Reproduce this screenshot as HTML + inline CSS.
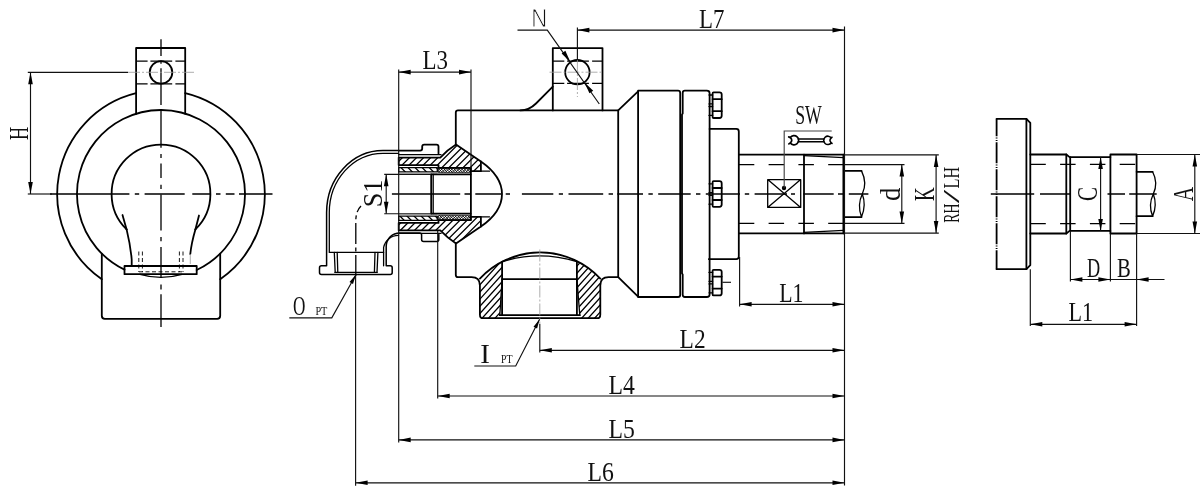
<!DOCTYPE html>
<html><head><meta charset="utf-8"><title>drawing</title>
<style>
html,body{margin:0;padding:0;background:#fff;}
body{width:1200px;height:489px;overflow:hidden;font-family:"Liberation Serif",serif;}
svg{display:block;will-change:transform}
.k{fill:none;stroke:#000;stroke-width:1.8;stroke-linecap:round;stroke-linejoin:round}
.k2{fill:none;stroke:#000;stroke-width:1.3;stroke-linecap:round;stroke-linejoin:round}
.t{fill:none;stroke:#111;stroke-width:1.15}
.g{fill:none;stroke:#999;stroke-width:0.8}
.c{fill:none;stroke:#000;stroke-width:1.3;stroke-dasharray:21 3.5 4 3.5}
.cg{fill:none;stroke:#999;stroke-width:0.8;stroke-dasharray:12 2 2 2}
.hd{fill:none;stroke:#000;stroke-width:1.3;stroke-dasharray:15.5 14.3}
.hl{fill:none;stroke:#000;stroke-width:1.3;stroke-dasharray:11.5 2.8 21.8 3.2 11}
.hs{fill:none;stroke:#000;stroke-width:0.9;stroke-dasharray:4 2.5}
.af{fill:#000;stroke:none}
.tx{font-family:"Liberation Serif",serif;fill:#111}
.ht{stroke:#000;stroke-width:1.25}
</style></head><body>
<svg width="1200" height="489" viewBox="0 0 1200 489">
<defs>
<pattern id="h1" width="5" height="5" patternUnits="userSpaceOnUse" patternTransform="rotate(-45)"><line x1="0" y1="0" x2="5" y2="0" class="ht"/></pattern>
<pattern id="h2" width="5" height="5" patternUnits="userSpaceOnUse" patternTransform="rotate(45)"><line x1="0" y1="0" x2="5" y2="0" class="ht"/></pattern>
<pattern id="h3" width="2" height="2" patternUnits="userSpaceOnUse" patternTransform="rotate(45)"><line x1="0" y1="0" x2="2" y2="0" stroke="#000" stroke-width="1.1"/><line x1="0" y1="0" x2="0" y2="2" stroke="#000" stroke-width="0.8"/></pattern>
<pattern id="h4" width="4.8" height="4.8" patternUnits="userSpaceOnUse" patternTransform="rotate(-48)"><line x1="0" y1="0" x2="4.8" y2="0" class="ht"/></pattern>
</defs>
<rect x="0" y="0" width="1200" height="489" fill="#fff"/>

<g id="v1">
<path class="k" d="M136.1,93.23 A103.8,103.8 0 0 0 101.8,279.26" />
<path class="k" d="M185.2,93.06 A103.8,103.8 0 0 1 220.2,279.26" />
<path class="k" d="M124.5,269.66 A84.0,84.0 0 1 1 196.7,270.04" />
<path class="k" d="M136.1,113.78 L136.1,48 L185.2,48 L185.2,113.78" />
<circle class="k" cx="161.0" cy="72.4" r="11.3"/>
<line class="hl" x1="136.1" y1="61.2" x2="185.2" y2="61.2"/>
<line class="hl" x1="136.1" y1="83.8" x2="185.2" y2="83.8"/>
<path class="k" d="M101.8,253.59 L101.8,315.8 Q101.8,318.8 104.8,318.8 L217.2,318.8 Q220.2,318.8 220.2,315.8 L220.2,253.59" />
<path class="k" d="M126.6,229.4 A49.4,49.4 0 1 1 195.4,229.4" />
<path class="k" d="M126.6,229.4 Q130.6,246 131.7,259.5 L131.7,266" />
<path class="k" d="M195.4,229.4 Q191.4,243 190.3,254" />
<line class="g" x1="190.3" y1="254" x2="190.3" y2="264"/>
<path class="k" d="M122.5,215 L126.6,229.4" />
<path class="k" d="M199.0,215.5 L195.4,229.4" />
<rect class="k" x="124.5" y="266" width="72.19999999999999" height="8.2"/>
<line class="hs" x1="138.8" y1="251.5" x2="138.8" y2="272"/>
<line class="hs" x1="142.4" y1="251.5" x2="142.4" y2="272"/>
<line class="hs" x1="179.4" y1="251.5" x2="179.4" y2="272"/>
<line class="hs" x1="183.0" y1="251.5" x2="183.0" y2="272"/>
<line class="hs" x1="139" y1="271.8" x2="183" y2="271.8"/>
<path class="k2" d="M140,274.4 Q161,280.5 182,274.4" />
<path class="c" style="stroke-dasharray:none;stroke-linecap:butt" d="M161.0,39.2 V56 M161.0,60.7 V63.7 M161.0,68.3 V105 M161.0,110.7 V147.8 M161.0,153.9 V157.9 M161.0,163.5 V178 M161.0,184.7 V189 M161.0,194.5 V230.5 M161.0,237 V241.3 M161.0,246.9 V278 M161.0,284.5 V289.4 M161.0,294.3 V327 "/>
<path class="c" style="stroke-dasharray:none;stroke-linecap:butt" d="M50,194.0 H129.4 M134.8,194.0 H139.2 M144.6,194.0 H184.7 M192.3,194.0 H210.7 M216,194.0 H220.5 M225.8,194.0 H234.5 M239,194.0 H272.5 "/>
<line class="t" x1="27.8" y1="72.3" x2="128" y2="72.3"/>
<line class="cg" x1="128" y1="72.3" x2="194" y2="72.3"/>
<line class="t" x1="27.8" y1="194.0" x2="52" y2="194.0"/>
<line class="t" x1="30.5" y1="72.3" x2="30.5" y2="194.0"/><polygon class="af" points="30.50,72.30 32.80,84.30 28.20,84.30"/><polygon class="af" points="30.50,194.00 28.20,182.00 32.80,182.00"/>
<text class="tx" x="27.6" y="140" font-size="28" textLength="13.2" lengthAdjust="spacingAndGlyphs" transform="rotate(-90 27.6 140)">H</text>
</g>
<g id="v2">
<path class="k" d="M398.7,150.6 L383,150.6 A56.4,62 0 0 0 326.6,212.6 L326.6,265.8 L321.5,265.8 Q319.5,265.8 319.5,267.8 L319.5,272.4 Q319.5,274.4 321.5,274.4 L390.2,274.4 Q392.2,274.4 392.2,272.4 L392.2,267.8 Q392.2,265.8 390.2,265.8 L386.2,265.8 L386.2,246.5 A13.6,13.6 0 0 1 399.8,232.9 L419.6,232.9 Q421.6,232.9 421.6,234.9 L421.6,239.5 Q421.6,241.5 423.6,241.5 L436.8,241.5 Q438.8,241.5 438.8,239.5 L438.8,234.5" style="stroke-width:1.5"/>
<path class="k2" d="M398.7,153.3 L383,153.3 A53.7,59.3 0 0 0 329.3,212.6 L329.3,252.4 L383.6,252.4" />
<path class="k2" d="M383.6,265.8 L383.6,247.5 A15,15 0 0 1 398.6,235.3" />
<path class="k" d="M398.7,150.6 L420.2,150.6 Q422.2,150.6 422.2,148.6 L422.2,146.6 Q422.2,144.6 424.2,144.6 L436.5,144.6 Q438.5,144.6 438.5,146.6 L438.5,153.5" />
<line class="k2" x1="398.7" y1="154.6" x2="441" y2="154.6"/>
<line class="k2" x1="398.7" y1="233.4" x2="441" y2="233.4"/>
<path class="k2" d="M334.3,252.4 L335.2,272.4 M337.2,252.4 L337.8,272.4 M377.9,252.4 L377.0,272.4 M375.0,252.4 L374.4,272.4" />
<line class="k2" x1="335" y1="272.4" x2="377" y2="272.4"/>
<path class="c" d="M355.8,276 L355.8,221 Q355.8,211 361,206" />
<clipPath id="hc1"><path d="M398.7,157.6 L440.3,157.6 Q448,149.5 456,144.6 L480.9,161.4 L480.9,171.2 L470.6,171.2 L470.6,167.9 L438.5,167.9 L438.5,165.1 L398.7,165.1 Z"/></clipPath><path clip-path="url(#hc1)" d="M378.18,160.63 L442.48,96.33 M381.72,164.17 L446.02,99.87 M385.25,167.70 L449.55,103.40 M388.79,171.24 L453.09,106.94 M392.33,174.77 L456.62,110.48 M395.86,178.31 L460.16,114.01 M399.40,181.85 L463.70,117.55 M402.93,185.38 L467.23,121.08 M406.47,188.92 L470.77,124.62 M410.00,192.45 L474.30,128.15 M413.54,195.99 L477.84,131.69 M417.07,199.52 L481.37,135.22 M420.61,203.06 L484.91,138.76 M424.15,206.59 L488.44,142.30 M427.68,210.13 L491.98,145.83 M431.22,213.67 L495.52,149.37 M434.75,217.20 L499.05,152.90 M438.29,220.74 L502.59,156.44 " fill="none" stroke="#000" stroke-width="1.3"/>
<path d="M398.7,157.6 L440.3,157.6 Q448,149.5 456,144.6 L480.9,161.4 L480.9,171.2 L470.6,171.2 L470.6,167.9 L438.5,167.9 L438.5,165.1 L398.7,165.1 Z" class="k"/>
<clipPath id="hc2"><path d="M398.7,167.6 L437.3,167.6 L437.3,171.9 L398.7,171.9 Z"/></clipPath><path clip-path="url(#hc2)" d="M416.62,140.84 L446.91,171.13 M413.08,144.38 L443.37,174.67 M409.54,147.91 L439.84,178.21 M406.01,151.45 L436.30,181.74 M402.47,154.99 L432.76,185.28 M398.94,158.52 L429.23,188.81 M395.40,162.06 L425.69,192.35 M391.87,165.59 L422.16,195.88 M388.33,169.13 L418.62,199.42 " fill="none" stroke="#000" stroke-width="1.3"/>
<path d="M398.7,167.6 L437.3,167.6 L437.3,171.9 L398.7,171.9 Z" class="k2"/>
<line class="g" x1="398.7" y1="173.2" x2="437.3" y2="173.2"/>
<clipPath id="hc3"><path d="M438.5,168.2 H470.5 V172.6 H438.5 Z"/></clipPath><path clip-path="url(#hc3)" d="M453.62,145.61 L479.29,171.28 M452.35,146.88 L478.02,172.55 M451.08,148.15 L476.75,173.82 M449.81,149.43 L475.47,175.09 M448.53,150.70 L474.20,176.37 M447.26,151.97 L472.93,177.64 M445.99,153.24 L471.66,178.91 M444.71,154.52 L470.38,180.19 M443.44,155.79 L469.11,181.46 M442.17,157.06 L467.84,182.73 M440.90,158.34 L466.56,184.00 M439.62,159.61 L465.29,185.28 M438.35,160.88 L464.02,186.55 M437.08,162.15 L462.75,187.82 M435.80,163.43 L461.47,189.10 M434.53,164.70 L460.20,190.37 M433.26,165.97 L458.93,191.64 M431.99,167.25 L457.65,192.91 M430.71,168.52 L456.38,194.19 M429.44,169.79 L455.11,195.46 " fill="none" stroke="#000" stroke-width="0.9"/>
<clipPath id="hc4"><path d="M438.5,168.2 H470.5 V172.6 H438.5 Z"/></clipPath><path clip-path="url(#hc4)" d="M429.59,171.16 L455.26,145.49 M431.29,172.86 L456.96,147.19 M432.99,174.56 L458.66,148.89 M434.69,176.25 L460.35,150.59 M436.38,177.95 L462.05,152.28 M438.08,179.65 L463.75,153.98 M439.78,181.35 L465.45,155.68 M441.47,183.04 L467.14,157.37 M443.17,184.74 L468.84,159.07 M444.87,186.44 L470.54,160.77 M446.57,188.13 L472.23,162.47 M448.26,189.83 L473.93,164.16 M449.96,191.53 L475.63,165.86 M451.66,193.23 L477.33,167.56 M453.35,194.92 L479.02,169.25 " fill="none" stroke="#000" stroke-width="0.8"/>
<path d="M438.5,168.2 H470.5 V172.6 H438.5 Z" fill="none" stroke="#000" stroke-width="0.7"/>
<line class="k" x1="431.7" y1="174.4" x2="470.6" y2="174.4"/>
<line class="k2" x1="480.9" y1="171.2" x2="489.5" y2="171.2"/>
<clipPath id="hc5"><path d="M398.7,230.4 L440.3,230.4 Q448,238.5 456,243.4 L480.9,226.6 L480.9,216.8 L470.6,216.8 L470.6,220.1 L438.5,220.1 L438.5,222.9 L398.7,222.9 Z"/></clipPath><path clip-path="url(#hc5)" d="M377.54,231.99 L441.84,167.69 M381.07,235.52 L445.37,171.22 M384.61,239.06 L448.91,174.76 M388.15,242.59 L452.44,178.30 M391.68,246.13 L455.98,181.83 M395.22,249.67 L459.52,185.37 M398.75,253.20 L463.05,188.90 M402.29,256.74 L466.59,192.44 M405.82,260.27 L470.12,195.97 M409.36,263.81 L473.66,199.51 M412.89,267.34 L477.19,203.04 M416.43,270.88 L480.73,206.58 M419.96,274.41 L484.26,210.11 M423.50,277.95 L487.80,213.65 M427.04,281.49 L491.34,217.19 M430.57,285.02 L494.87,220.72 M434.11,288.56 L498.41,224.26 M437.64,292.09 L501.94,227.79 " fill="none" stroke="#000" stroke-width="1.3"/>
<path d="M398.7,230.4 L440.3,230.4 Q448,238.5 456,243.4 L480.9,226.6 L480.9,216.8 L470.6,216.8 L470.6,220.1 L438.5,220.1 L438.5,222.9 L398.7,222.9 Z" class="k"/>
<clipPath id="hc6"><path d="M398.7,220.4 L437.3,220.4 L437.3,216.1 L398.7,216.1 Z"/></clipPath><path clip-path="url(#hc6)" d="M416.12,189.84 L446.41,220.13 M412.58,193.38 L442.87,223.67 M409.05,196.91 L439.34,227.20 M405.51,200.45 L435.80,230.74 M401.97,203.98 L432.27,234.28 M398.44,207.52 L428.73,237.81 M394.90,211.06 L425.19,241.35 M391.37,214.59 L421.66,244.88 M387.83,218.13 L418.12,248.42 " fill="none" stroke="#000" stroke-width="1.3"/>
<path d="M398.7,220.4 L437.3,220.4 L437.3,216.1 L398.7,216.1 Z" class="k2"/>
<line class="g" x1="398.7" y1="214.8" x2="437.3" y2="214.8"/>
<clipPath id="hc7"><path d="M438.5,215.4 H470.5 V219.8 H438.5 Z"/></clipPath><path clip-path="url(#hc7)" d="M454.31,192.12 L479.98,217.79 M453.04,193.39 L478.71,219.06 M451.77,194.66 L477.44,220.33 M450.49,195.94 L476.16,221.61 M449.22,197.21 L474.89,222.88 M447.95,198.48 L473.62,224.15 M446.68,199.75 L472.35,225.42 M445.40,201.03 L471.07,226.70 M444.13,202.30 L469.80,227.97 M442.86,203.57 L468.53,229.24 M441.59,204.85 L467.25,230.51 M440.31,206.12 L465.98,231.79 M439.04,207.39 L464.71,233.06 M437.77,208.66 L463.44,234.33 M436.49,209.94 L462.16,235.61 M435.22,211.21 L460.89,236.88 M433.95,212.48 L459.62,238.15 M432.68,213.76 L458.34,239.42 M431.40,215.03 L457.07,240.70 M430.13,216.30 L455.80,241.97 M428.86,217.57 L454.53,243.24 " fill="none" stroke="#000" stroke-width="0.9"/>
<clipPath id="hc8"><path d="M438.5,215.4 H470.5 V219.8 H438.5 Z"/></clipPath><path clip-path="url(#hc8)" d="M429.75,218.52 L455.42,192.85 M431.45,220.22 L457.12,194.55 M433.15,221.92 L458.82,196.25 M434.84,223.61 L460.51,197.94 M436.54,225.31 L462.21,199.64 M438.24,227.01 L463.91,201.34 M439.94,228.70 L465.60,203.04 M441.63,230.40 L467.30,204.73 M443.33,232.10 L469.00,206.43 M445.03,233.80 L470.70,208.13 M446.72,235.49 L472.39,209.82 M448.42,237.19 L474.09,211.52 M450.12,238.89 L475.79,213.22 M451.82,240.58 L477.48,214.92 M453.51,242.28 L479.18,216.61 " fill="none" stroke="#000" stroke-width="0.8"/>
<path d="M438.5,215.4 H470.5 V219.8 H438.5 Z" fill="none" stroke="#000" stroke-width="0.7"/>
<line class="k" x1="431.7" y1="213.6" x2="470.6" y2="213.6"/>
<line class="k2" x1="480.9" y1="216.8" x2="489.5" y2="216.8"/>
<line class="k" x1="431.2" y1="174.4" x2="431.2" y2="213.6"/>
<line class="k2" x1="433.2" y1="174.4" x2="433.2" y2="213.6"/>
<line class="k" x1="470.9" y1="168" x2="470.9" y2="220.0"/>
<path class="k" d="M480.9,161.4 Q502,176 502,194 Q502,212 480.9,226.6" />
<path class="k" d="M455.8,144.6 L455.8,112.5 Q455.8,110.4 458,110.4 L618.2,110.4 L638.1,91.4" />
<path class="k" d="M455.8,243.4 L455.8,275 Q455.8,277.2 458,277.2 L471.5,277.2 Q479.9,277.2 479.9,285.5 L479.9,314.4 Q479.9,318.2 482.9,318.2 L597.3,318.2 Q600.3,318.2 600.3,314.4 L600.3,285.5 Q600.3,277.2 608.6,277.2 L618.2,277.2 L638.1,296.6" />
<line class="k" x1="618.2" y1="110.4" x2="618.2" y2="277.2"/>
<path class="k" d="M552.8,110.4 L552.8,48.1 L602.5,48.1 L602.5,110.4" />
<path class="k" d="M552.8,86.7 L536,103.5 Q529,110.4 520.5,110.4" />
<circle class="k" cx="577.4" cy="72.2" r="12.2"/>
<line class="hl" x1="552.8" y1="61.2" x2="602.5" y2="61.2"/>
<line class="hl" x1="552.8" y1="83.4" x2="602.5" y2="83.4"/>
<line class="cg" x1="549.5" y1="72.2" x2="604" y2="72.2"/>
<line class="cg" x1="577.4" y1="60" x2="577.4" y2="97"/>
<path class="k" d="M638.1,90.7 L678,90.7 Q680.2,90.7 680.2,93 L680.2,294.7 Q680.2,297 678,297 L638.1,297 Z" />
<path class="k" d="M684.9,90.7 L706.8,90.7 Q709.6,90.7 709.6,93.2 L709.6,294.5 Q709.6,297 706.8,297 L684.9,297 Q682.7,297 682.7,294.8 L682.7,274.5 L682.0,273.5 L682.0,114.5 L682.7,113.5 L682.7,93 Q682.7,90.7 684.9,90.7 Z" />
<path class="k" d="M712.6,93.4 Q712.6,92.4 713.6,92.4 L719.5,92.4 Q721.7,92.4 721.7,94.60000000000001 L721.7,115.8 Q721.7,118.0 719.5,118.0 L713.6,118.0 Q712.6,118.0 712.6,117.0 Z" /><line class="k" x1="712.6" y1="99.2" x2="721.7" y2="99.2"/><line class="k" x1="712.6" y1="111.2" x2="721.7" y2="111.2"/><path class="k2" d="M709,95.0 L712.6,95.0 M709,115.4 L712.6,115.4 M709,103.9 L712.6,103.9 M709,106.5 L712.6,106.5" />
<path class="k" d="M712.6,182.2 Q712.6,181.2 713.6,181.2 L719.5,181.2 Q721.7,181.2 721.7,183.39999999999998 L721.7,204.60000000000002 Q721.7,206.8 719.5,206.8 L713.6,206.8 Q712.6,206.8 712.6,205.8 Z" /><line class="k" x1="712.6" y1="188" x2="721.7" y2="188"/><line class="k" x1="712.6" y1="200" x2="721.7" y2="200"/><path class="k2" d="M709,183.8 L712.6,183.8 M709,204.2 L712.6,204.2 M709,192.7 L712.6,192.7 M709,195.3 L712.6,195.3" />
<path class="k" d="M712.6,270.8 Q712.6,269.8 713.6,269.8 L719.5,269.8 Q721.7,269.8 721.7,272.0 L721.7,293.20000000000005 Q721.7,295.40000000000003 719.5,295.40000000000003 L713.6,295.40000000000003 Q712.6,295.40000000000003 712.6,294.40000000000003 Z" /><line class="k" x1="712.6" y1="276.6" x2="721.7" y2="276.6"/><line class="k" x1="712.6" y1="288.6" x2="721.7" y2="288.6"/><path class="k2" d="M709,272.40000000000003 L712.6,272.40000000000003 M709,292.8 L712.6,292.8 M709,281.3 L712.6,281.3 M709,283.90000000000003 L712.6,283.90000000000003" />
<line class="t" x1="722.4" y1="282.3" x2="731" y2="282.3"/>
<path class="k" d="M709.6,128.9 L736.3,128.9 Q738.8,128.9 738.8,131.4 L738.8,256.6 Q738.8,259.1 736.3,259.1 L708.8,259.1" />
<path class="k" d="M738.8,154.6 L843.6,154.6 L843.6,233.4 L738.8,233.4" />
<line class="k" x1="804" y1="154.6" x2="804" y2="233.4"/>
<path class="k2" d="M804,155.6 L843.6,157.7 M804,232.4 L843.6,230.3" />
<line class="k" x1="843.6" y1="154.6" x2="843.6" y2="233.4"/>
<line class="hd" x1="738.8" y1="164.6" x2="843.6" y2="164.6"/>
<line class="hd" x1="738.8" y1="223.4" x2="843.6" y2="223.4"/>
<path class="k" d="M844.6,170.9 L861.5,170.9 M844.6,217.1 L861.5,217.1" />
<path class="k2" d="M861.5,170.9 Q867.5,183 862.3,194 Q857,205 861.5,217.1 Q866.5,205 862.3,194" />
<path class="k2" d="M767.7,179.6 L800.7,179.6 L800.7,207.4 L767.7,207.4 Z M767.7,179.6 L800.7,207.4 M800.7,179.6 L767.7,207.4" />
<circle cx="784" cy="188" r="2.2" fill="#000"/>
<path class="t" d="M784.2,187.6 L784.2,131 L831.7,131" style="stroke:#444"/>
<text class="tx" x="795.2" y="124.4" font-size="28" textLength="26.6" lengthAdjust="spacingAndGlyphs">SW</text>
<path class="k" d="M798.2,139 L824,139 M798.2,141.8 L824,141.8" style="stroke-width:1.5"/>
<path class="k" d="M788.7,136.9 L790.3,137.6 A4.6,4.6 0 1 1 790.3,142.9 L788.9,143.9 M790.3,137.6 Q793.2,140.2 790.3,142.9" style="stroke-width:1.7"/>
<path class="k" d="M832,143.4 L831.3,142.8 A4.2,4.2 0 1 1 831.3,137.9 L832,137.2 M831.3,142.8 Q828.6,140.3 831.3,137.9" style="stroke-width:1.6"/>
<path class="c" style="stroke-dasharray:none;stroke-linecap:butt" d="M391.9,194.0 H460.2 M464.5,194.0 H470 M475.3,194.0 H501.3 M505.7,194.0 H510 M521.9,194.0 H553.3 M558.8,194.0 H563 M568.5,194.0 H603.2 M608.6,194.0 H613 M617.3,194.0 H643 M648.4,194.0 H652.8 M658.2,194.0 H690.7 M696,194.0 H700.4 M705.8,194.0 H740 M744.8,194.0 H749.2 M754.6,194.0 H787 M791,194.0 H795 M803.3,194.0 H833.7 M838,194.0 H843.4 M848.8,194.0 H868.4 "/>
<clipPath id="hc9"><path d="M479.9,278.6 A82.4,82.4 0 0 1 502.1,261.7 L502.1,279.1 L499.8,315.2 L499.8,318.2 L482.9,318.2 Q479.9,318.2 479.9,314.4 Z"/></clipPath><path clip-path="url(#hc9)" d="M446.30,293.42 L490.12,244.75 M449.87,296.63 L493.69,247.96 M453.43,299.84 L497.25,251.18 M457.00,303.05 L500.82,254.39 M460.57,306.26 L504.39,257.60 M464.14,309.48 L507.95,260.81 M467.70,312.69 L511.52,264.02 M471.27,315.90 L515.09,267.23 M474.84,319.11 L518.66,270.45 M478.40,322.32 L522.22,273.66 M481.97,325.54 L525.79,276.87 M485.54,328.75 L529.36,280.08 M489.11,331.96 L532.92,283.29 M492.67,335.17 L536.49,286.51 " fill="none" stroke="#000" stroke-width="1.3"/>
<clipPath id="hc10"><path d="M600.3,278.6 A82.4,82.4 0 0 0 576.9,261.7 L576.9,279.1 L579.8,315.2 L579.8,318.2 L597.3,318.2 Q600.3,318.2 600.3,314.4 Z"/></clipPath><path clip-path="url(#hc10)" d="M544.81,294.60 L588.95,245.58 M548.37,297.82 L592.52,248.79 M551.94,301.03 L596.08,252.00 M555.51,304.24 L599.65,255.22 M559.08,307.45 L603.22,258.43 M562.64,310.66 L606.79,261.64 M566.21,313.88 L610.35,264.85 M569.78,317.09 L613.92,268.06 M573.34,320.30 L617.49,271.27 M576.91,323.51 L621.05,274.49 M580.48,326.72 L624.62,277.70 M584.05,329.93 L628.19,280.91 M587.61,333.15 L631.76,284.12 " fill="none" stroke="#000" stroke-width="1.3"/>
<path class="k" d="M479.9,278.6 A82.4,82.4 0 0 1 600.3,278.6" />
<path class="k2" d="M502.1,261.7 Q539.5,250 576.9,261.7" />
<path class="k" d="M502.1,261.7 L502.1,315.2 M576.9,261.7 L576.9,315.2" />
<path class="k" d="M502.1,279.1 L576.9,279.1" />
<path class="k2" d="M502.1,279.1 L499.8,315.2 M576.9,279.1 L579.8,315.2" />
<path class="k" d="M499.8,315.2 L579.8,315.2" />
<line class="cg" x1="539.8" y1="249.5" x2="539.8" y2="324"/>
<line class="t" x1="844.5" y1="26.5" x2="844.5" y2="485.5"/>
<line class="t" x1="577.4" y1="27.5" x2="577.4" y2="60"/>
<line class="t" x1="577.4" y1="30.1" x2="844.5" y2="30.1"/><polygon class="af" points="577.40,30.10 589.40,27.80 589.40,32.40"/><polygon class="af" points="844.50,30.10 832.50,32.40 832.50,27.80"/>
<text class="tx" x="699" y="27.8" font-size="28" textLength="25.4" lengthAdjust="spacingAndGlyphs">L7</text>
<path class="t" d="M517.5,30.1 L547.3,30.1 L599.3,104" />
<polygon class="af" points="570.40,62.00 561.60,53.52 565.36,50.87"/>
<polygon class="af" points="584.40,82.20 593.20,90.68 589.44,93.33"/>
<text x="531.2" y="26.9" font-size="25.6" textLength="16" lengthAdjust="spacingAndGlyphs" style="font-family:&quot;Liberation Sans&quot;,sans-serif;fill:#111;stroke:#fff;stroke-width:0.9px;paint-order:fill stroke">N</text>
<line class="t" x1="398.7" y1="69.5" x2="398.7" y2="442.5"/>
<line class="t" x1="471.0" y1="69.5" x2="471.0" y2="168"/>
<line class="t" x1="398.7" y1="72.1" x2="471.0" y2="72.1"/><polygon class="af" points="398.70,72.10 410.70,69.80 410.70,74.40"/><polygon class="af" points="471.00,72.10 459.00,74.40 459.00,69.80"/>
<text class="tx" x="422.5" y="69.3" font-size="28" textLength="25.5" lengthAdjust="spacingAndGlyphs">L3</text>
<line class="t" x1="384.2" y1="174.3" x2="431" y2="174.3"/>
<line class="t" x1="384.2" y1="213.7" x2="431" y2="213.7"/>
<line class="t" x1="386.2" y1="174.3" x2="386.2" y2="213.7"/><polygon class="af" points="386.20,174.30 388.50,186.30 383.90,186.30"/><polygon class="af" points="386.20,213.70 383.90,201.70 388.50,201.70"/>
<text class="tx" x="382" y="207.3" font-size="28" textLength="27.6" lengthAdjust="spacingAndGlyphs" transform="rotate(-90 382 207.3)">S1</text>
<path class="t" d="M289.3,317.8 L331.8,317.8 L355.9,274.8" />
<polygon class="af" points="355.90,274.80 353.01,284.07 349.52,282.12"/>
<text class="tx" x="292.9" y="315.2" font-size="28" textLength="12.4" lengthAdjust="spacingAndGlyphs">O</text>
<text class="tx" x="315.4" y="315" font-size="11.5" textLength="12" lengthAdjust="spacingAndGlyphs">PT</text>
<path class="t" d="M474.3,366 L515.7,366 L539.6,319.2" />
<polygon class="af" points="539.60,319.20 537.07,328.57 533.51,326.76"/>
<text class="tx" x="480.3" y="363.2" font-size="28" textLength="9.6" lengthAdjust="spacingAndGlyphs">I</text>
<text class="tx" x="501" y="363.2" font-size="11.5" textLength="11.5" lengthAdjust="spacingAndGlyphs">PT</text>
<line class="t" x1="739.6" y1="257.0" x2="739.6" y2="306.5"/>
<line class="t" x1="739.6" y1="304.3" x2="844.5" y2="304.3"/><polygon class="af" points="739.60,304.30 751.60,302.00 751.60,306.60"/><polygon class="af" points="844.50,304.30 832.50,306.60 832.50,302.00"/>
<text class="tx" x="779.2" y="301.8" font-size="28" textLength="24.2" lengthAdjust="spacingAndGlyphs">L1</text>
<line class="t" x1="539.8" y1="324" x2="539.8" y2="352.6"/>
<line class="t" x1="539.8" y1="350.3" x2="844.5" y2="350.3"/><polygon class="af" points="539.80,350.30 551.80,348.00 551.80,352.60"/><polygon class="af" points="844.50,350.30 832.50,352.60 832.50,348.00"/>
<text class="tx" x="679.6" y="348.4" font-size="28" textLength="26" lengthAdjust="spacingAndGlyphs">L2</text>
<line class="t" x1="437.7" y1="231.0" x2="437.7" y2="398.6"/>
<line class="t" x1="437.7" y1="396.0" x2="844.5" y2="396.0"/><polygon class="af" points="437.70,396.00 449.70,393.70 449.70,398.30"/><polygon class="af" points="844.50,396.00 832.50,398.30 832.50,393.70"/>
<text class="tx" x="608.6" y="393.6" font-size="28" textLength="26.3" lengthAdjust="spacingAndGlyphs">L4</text>
<line class="t" x1="398.7" y1="439.9" x2="844.5" y2="439.9"/><polygon class="af" points="398.70,439.90 410.70,437.60 410.70,442.20"/><polygon class="af" points="844.50,439.90 832.50,442.20 832.50,437.60"/>
<text class="tx" x="608.6" y="438.1" font-size="28" textLength="26.3" lengthAdjust="spacingAndGlyphs">L5</text>
<line class="t" x1="355.6" y1="276" x2="355.6" y2="485.7"/>
<line class="t" x1="355.6" y1="482.8" x2="844.5" y2="482.8"/><polygon class="af" points="355.60,482.80 367.60,480.50 367.60,485.10"/><polygon class="af" points="844.50,482.80 832.50,485.10 832.50,480.50"/>
<text class="tx" x="587.6" y="481.2" font-size="28" textLength="26.3" lengthAdjust="spacingAndGlyphs">L6</text>
<line class="t" x1="845" y1="164.6" x2="904.5" y2="164.6"/>
<line class="t" x1="845" y1="223.4" x2="904.5" y2="223.4"/>
<line class="t" x1="901.8" y1="164.6" x2="901.8" y2="223.4"/><polygon class="af" points="901.80,164.60 904.10,176.60 899.50,176.60"/><polygon class="af" points="901.80,223.40 899.50,211.40 904.10,211.40"/>
<text class="tx" x="899.6" y="201.0" font-size="29.5" textLength="13.4" lengthAdjust="spacingAndGlyphs" transform="rotate(-90 899.6 201.0)">d</text>
<line class="t" x1="845" y1="154.9" x2="938.8" y2="154.9"/>
<line class="t" x1="845" y1="233.1" x2="938.8" y2="233.1"/>
<line class="t" x1="936.1" y1="154.9" x2="936.1" y2="233.1"/><polygon class="af" points="936.10,154.90 938.40,166.90 933.80,166.90"/><polygon class="af" points="936.10,233.10 933.80,221.10 938.40,221.10"/>
<text class="tx" x="934.4" y="201.0" font-size="29" textLength="13.6" lengthAdjust="spacingAndGlyphs" transform="rotate(-90 934.4 201.0)">K</text>
<text class="tx" x="959.3" y="222.8" font-size="23" textLength="19.2" lengthAdjust="spacingAndGlyphs" transform="rotate(-90 959.3 222.8)">RH</text>
<text class="tx" x="959.3" y="203.2" font-size="23" textLength="13.6" lengthAdjust="spacingAndGlyphs" transform="rotate(-90 959.3 203.2)">/</text>
<text class="tx" x="959.3" y="188.4" font-size="23" textLength="21.6" lengthAdjust="spacingAndGlyphs" transform="rotate(-90 959.3 188.4)">LH</text>
</g>
<g id="v3">
<path class="k" d="M996.6,118.8 L1026.4,118.8 L1030.3,122.8 L1030.3,265.2 L1026.4,269.2 L996.6,269.2" />
<line class="k" x1="1026.4" y1="118.8" x2="1026.4" y2="269.2"/>
<line class="k" x1="996.6" y1="118.8" x2="996.6" y2="269.2" stroke-dasharray="21 1.3 1 1.3 1 1.4" stroke-dashoffset="3.5" style="stroke-linecap:butt"/>
<path class="k" d="M1030.3,154.5 L1066.3,154.5 L1069.6,157.1 L1110.4,157.1 L1110.4,154.5 L1136.6,154.5 L1136.6,233.5 L1110.4,233.5 L1110.4,230.9 L1069.6,230.9 L1066.3,233.5 L1030.3,233.5" />
<line class="k" x1="1066.3" y1="154.5" x2="1066.3" y2="233.5"/>
<line class="k" x1="1070.2" y1="157.1" x2="1070.2" y2="230.9"/>
<line class="k" x1="1110.4" y1="157.1" x2="1110.4" y2="230.9"/>
<line class="hd" x1="1030.3" y1="164.4" x2="1136.6" y2="164.4"/>
<line class="hd" x1="1030.3" y1="223.6" x2="1136.6" y2="223.6"/>
<path class="k" d="M1136.6,171.8 L1152.6,171.8 M1136.6,216.2 L1152.6,216.2" />
<path class="k2" d="M1152.6,171.8 Q1158.5,183 1153.3,194 Q1148,205 1152.6,216.2 Q1157.5,205 1153.3,194" />
<path class="c" d="M990.8,194 H1034.2 M1040,194 H1071 M1107.5,194 H1125 M1129.2,194 H1156.7" style="stroke-dasharray:none"/>
<line class="t" x1="1100.6" y1="157.1" x2="1100.6" y2="230.9"/><polygon class="af" points="1100.60,157.10 1102.90,169.10 1098.30,169.10"/><polygon class="af" points="1100.60,230.90 1098.30,218.90 1102.90,218.90"/>
<text class="tx" x="1097.4" y="201.0" font-size="28.5" textLength="14" lengthAdjust="spacingAndGlyphs" transform="rotate(-90 1097.4 201.0)">C</text>
<line class="t" x1="1136.6" y1="154.5" x2="1200" y2="154.5"/>
<line class="t" x1="1136.6" y1="233.5" x2="1200" y2="233.5"/>
<line class="t" x1="1194.8" y1="154.5" x2="1194.8" y2="233.5"/><polygon class="af" points="1194.80,154.50 1197.10,166.50 1192.50,166.50"/><polygon class="af" points="1194.80,233.50 1192.50,221.50 1197.10,221.50"/>
<text class="tx" x="1192.8" y="201.3" font-size="28.5" textLength="14.4" lengthAdjust="spacingAndGlyphs" transform="rotate(-90 1192.8 201.3)">A</text>
<line class="t" x1="1070.4" y1="230.9" x2="1070.4" y2="281.5"/>
<line class="t" x1="1110.4" y1="233.5" x2="1110.4" y2="281.5"/>
<line class="t" x1="1136.6" y1="233.5" x2="1136.6" y2="326"/>
<line class="t" x1="1070.4" y1="279.5" x2="1164.5" y2="279.5"/>
<polygon class="af" points="1070.40,279.50 1082.40,277.20 1082.40,281.80"/>
<polygon class="af" points="1110.40,279.50 1098.40,281.80 1098.40,277.20"/>
<polygon class="af" points="1136.60,279.50 1148.60,277.20 1148.60,281.80"/>
<text class="tx" x="1086.9" y="276.8" font-size="28" textLength="13.2" lengthAdjust="spacingAndGlyphs">D</text>
<text class="tx" x="1117" y="276.8" font-size="28" textLength="13.8" lengthAdjust="spacingAndGlyphs">B</text>
<line class="t" x1="1030.3" y1="269.2" x2="1030.3" y2="326"/>
<line class="t" x1="1030.3" y1="324.3" x2="1136.6" y2="324.3"/><polygon class="af" points="1030.30,324.30 1042.30,322.00 1042.30,326.60"/><polygon class="af" points="1136.60,324.30 1124.60,326.60 1124.60,322.00"/>
<text class="tx" x="1068.6" y="321.2" font-size="28" textLength="24.6" lengthAdjust="spacingAndGlyphs">L1</text>
</g>
</svg></body></html>
